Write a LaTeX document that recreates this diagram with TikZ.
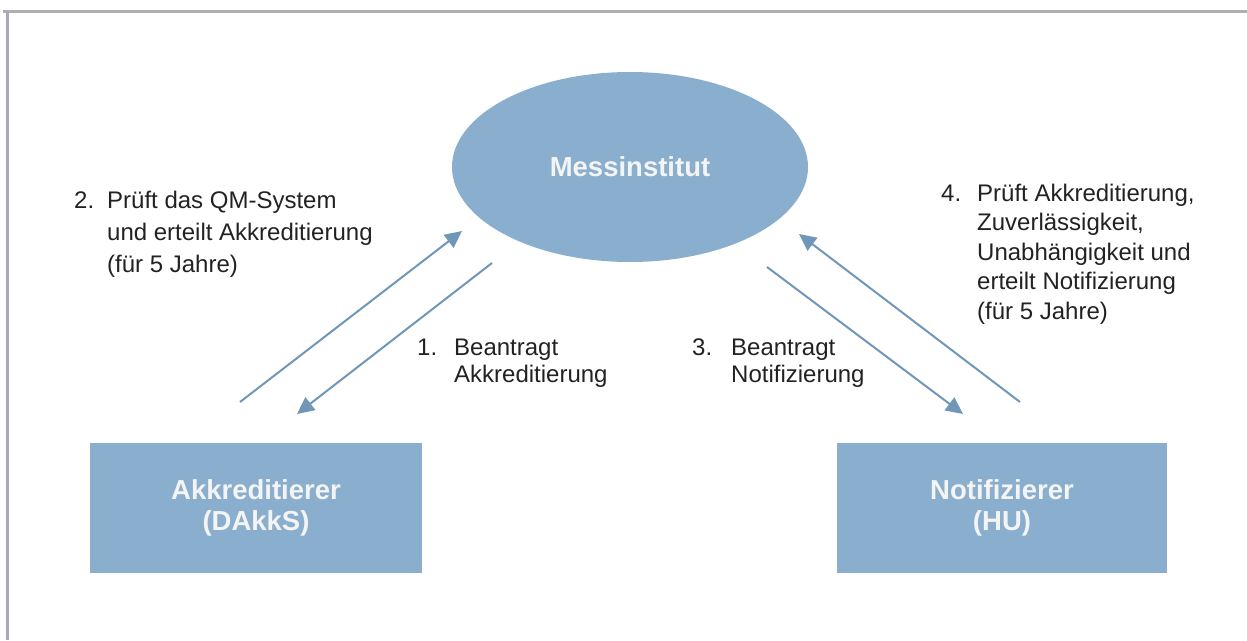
\documentclass[tikz,border=0pt]{standalone}
\usepackage{fontspec}
\setmainfont{Liberation Sans}
\usetikzlibrary{shapes.geometric,arrows.meta}
\definecolor{fillblue}{HTML}{8AAECD}
\definecolor{arrowblue}{HTML}{7096B8}
\definecolor{txtdark}{HTML}{222222}
\definecolor{frametop}{HTML}{B0B0B0}
\definecolor{frameleft}{HTML}{A8A8C0}
\definecolor{boxtxt}{HTML}{F4F4F4}
\tikzset{
  ellnode/.style={ellipse, fill=fillblue, minimum width=356pt, minimum height=190pt, inner sep=0pt,
    text=boxtxt, font=\fontsize{27.5}{32}\selectfont\bfseries},
  boxnode/.style={rectangle, fill=fillblue, minimum width=332pt, minimum height=130pt, inner sep=0pt,
    text=boxtxt, align=center, font=\fontsize{27.5}{31}\selectfont\bfseries},
  lbl/.style={anchor=base west, inner sep=0pt, text=txtdark},
  conn/.style={draw=arrowblue, line width=2pt, -{Triangle[length=17pt,width=16pt]}},
  framel/.style={line width=3pt}
}
\begin{document}
\begin{tikzpicture}[x=1pt,y=-1pt]
\useasboundingbox (0,0) rectangle (1247,640);
% frame
\draw[framel, frametop] (3,11) -- (1247,11);
\draw[framel, frameleft] (7,11) -- (7,640);
% nodes
\node[ellnode] (mi) at (630,167) {Messinstitut};
\node[boxnode] (ak) at (256,508) {Akkreditierer\\(DAkkS)};
\node[boxnode, minimum width=330pt] (no) at (1002,508) {Notifizierer\\(HU)};
% connector end points
\coordinate (a2s) at (240,402);
\coordinate (a2e) at (462,231);
\coordinate (a1s) at (492,263);
\coordinate (a1e) at (297,414);
\coordinate (a3s) at (767,267);
\coordinate (a3e) at (963,414);
\coordinate (a4s) at (1020,402);
\coordinate (a4e) at (799,234);
\draw[conn] (a2s) -- (a2e);
\draw[conn] (a1s) -- (a1e);
\draw[conn] (a3s) -- (a3e);
\draw[conn] (a4s) -- (a4e);
% labels
\node[lbl, font=\fontsize{24}{32}\selectfont] (l2) at (74,208)
  {\begin{tabular}[t]{@{}p{33pt}@{}l@{}}2. & Prüft das QM-System\\ & und erteilt Akkreditierung\\ & (für 5 Jahre)\end{tabular}};
\node[lbl, font=\fontsize{24}{27}\selectfont] (l1) at (417,355)
  {\begin{tabular}[t]{@{}p{37pt}@{}l@{}}1. & Beantragt\\ & Akkreditierung\end{tabular}};
\node[lbl, font=\fontsize{24}{27}\selectfont] (l3) at (692,355)
  {\begin{tabular}[t]{@{}p{39pt}@{}l@{}}3. & Beantragt\\ & Notifizierung\end{tabular}};
\node[lbl, font=\fontsize{24}{29.5}\selectfont] (l4) at (941,201)
  {\begin{tabular}[t]{@{}p{36pt}@{}l@{}}4. & Prüft Akkreditierung,\\ & Zuverlässigkeit,\\ & Unabhängigkeit und\\ & erteilt Notifizierung\\ & (für 5 Jahre)\end{tabular}};
\end{tikzpicture}
\end{document}
